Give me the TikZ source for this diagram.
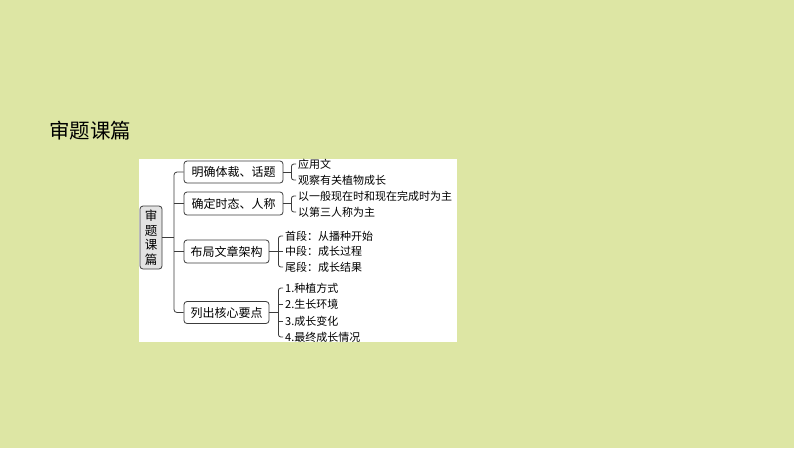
\documentclass[tikz,border=0pt]{standalone}
\usepackage{fontspec}
\setmainfont{Noto Sans CJK SC}
\definecolor{bgreen}{RGB}{221,230,164}
\definecolor{ink}{RGB}{60,60,60}

\begin{document}
\begin{tikzpicture}[x=1pt,y=-1pt,
    link/.style={draw=ink,line width=0.8pt},
    topic/.style={draw=ink,line width=0.8pt,rounded corners=3pt,fill=white,
      minimum height=22pt,inner sep=0pt,font=\fontsize{12pt}{14pt}\selectfont},
    leaf/.style={anchor=west,inner sep=2pt,font=\fontsize{11pt}{13pt}\selectfont}]
    \fill[bgreen] (0,0) rectangle (794,448);
    \useasboundingbox (0,0) rectangle (794,448);
    \fill[white] (139,159) rectangle (457,342);
    \node[anchor=west,inner sep=0pt,font=\fontsize{20.5pt}{24pt}\selectfont] (title) at (49,131) {审题课篇};
    % root and topics
    \node[topic,fill=gray!22,minimum width=22pt,minimum height=63pt,align=center,
      font=\fontsize{12.5pt}{14.5pt}\selectfont] (root) at (151,237.5) {审\\题\\课\\篇};
    \node[topic,minimum width=99pt] (b1) at (233.5,172) {明确体裁、话题};
    \node[topic,minimum width=99pt,minimum height=23pt] (b2) at (233.5,203.5) {确定时态、人称};
    \node[topic,minimum width=85pt,minimum height=23pt] (b3) at (226.5,251.5) {布局文章架构};
    \node[topic,minimum width=85pt] (b4) at (226.5,312.5) {列出核心要点};
    \coordinate (jn) at (174,237.5);
    \draw[link] (root) -- (jn);
    \draw[link,rounded corners=3pt] (b1.west) -| (jn) |- (b4.west);
    \draw[link] (b2.west) -- (b2.west -| jn);
    \draw[link] (b3.west) -- (b3.west -| jn);
    % leaves
    \node[leaf] (l11) at (296,164) {应用文};
    \node[leaf] (l12) at (296,180) {观察有关植物成长};
    \node[leaf] (l21) at (296,196) {以一般现在时和现在完成时为主};
    \node[leaf] (l22) at (296,212) {以第三人称为主};
    \node[leaf] (l31) at (283,236) {首段：从播种开始};
    \node[leaf] (l32) at (283,251.5) {中段：成长过程};
    \node[leaf] (l33) at (283,267) {尾段：成长结果};
    \node[leaf] (l41) at (283,288) {1.种植方式};
    \node[leaf] (l42) at (283,304.5) {2.生长环境};
    \node[leaf] (l43) at (283,321) {3.成长变化};
    \node[leaf] (l44) at (283,337) {4.最终成长情况};
    % brackets
    \draw[link] (b1.east) -- ++(8,0) coordinate (k1);
    \draw[link,rounded corners=2.5pt] (l11.west) -| (k1) |- (l12.west);
    \draw[link] (b2.east) -- ++(8,0) coordinate (k2);
    \draw[link,rounded corners=2.5pt] (l21.west) -| (k2) |- (l22.west);
    \draw[link] (b3.east) -- ++(9,0) coordinate (k3);
    \draw[link,rounded corners=2.5pt] (l31.west) -| (k3) |- (l33.west);
    \draw[link] (l32.west) -- (l32.west -| k3);
    \draw[link] (b4.east) -- ++(9,0) coordinate (k4);
    \draw[link,rounded corners=2.5pt] (l41.west) -| (k4) |- (l44.west);
    \draw[link] (l42.west) -- (l42.west -| k4);
    \draw[link] (l43.west) -- (l43.west -| k4);
  \end{tikzpicture}
\end{document}
